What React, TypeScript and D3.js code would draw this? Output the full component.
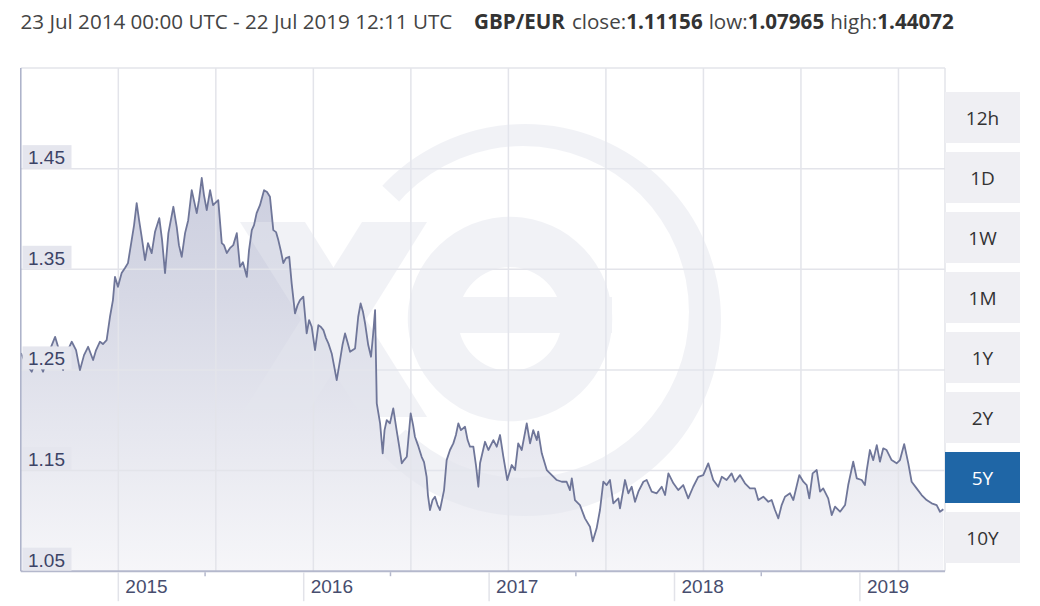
import React from "react";
import * as d3 from "d3";

// Decimal-year positions of the sampled GBP/EUR closes
const dates: number[] = [
  2014.475, 2014.497, 2014.533, 2014.561, 2014.594, 2014.626, 2014.659, 2014.68, 2014.702, 2014.723,
  2014.749, 2014.772, 2014.793, 2014.815, 2014.837, 2014.864, 2014.88, 2014.901, 2014.917, 2014.937,
  2014.955, 2014.971, 2014.982, 2014.998, 2015.018, 2015.036, 2015.052, 2015.072, 2015.085, 2015.099,
  2015.112, 2015.126, 2015.144, 2015.16, 2015.18, 2015.198, 2015.221, 2015.236, 2015.252, 2015.27,
  2015.297, 2015.315, 2015.327, 2015.342, 2015.36, 2015.377, 2015.396, 2015.423, 2015.435, 2015.45,
  2015.462, 2015.477, 2015.495, 2015.511, 2015.522, 2015.539, 2015.558, 2015.57, 2015.585, 2015.602,
  2015.62, 2015.639, 2015.656, 2015.672, 2015.693, 2015.705, 2015.72, 2015.732, 2015.746, 2015.764,
  2015.786, 2015.802, 2015.818, 2015.836, 2015.851, 2015.863, 2015.878, 2015.89, 2015.904, 2015.922,
  2015.935, 2015.953, 2015.967, 2015.98, 2015.998, 2016.016, 2016.029, 2016.043, 2016.061, 2016.079,
  2016.093, 2016.106, 2016.12, 2016.133, 2016.151, 2016.163, 2016.178, 2016.196, 2016.209, 2016.223,
  2016.236, 2016.25, 2016.277, 2016.294, 2016.307, 2016.32, 2016.331, 2016.348, 2016.363, 2016.374,
  2016.385, 2016.394, 2016.412, 2016.426, 2016.436, 2016.448, 2016.465, 2016.483, 2016.501, 2016.514,
  2016.529, 2016.541, 2016.556, 2016.577, 2016.59, 2016.6, 2016.616, 2016.636, 2016.649, 2016.663,
  2016.67, 2016.681, 2016.695, 2016.708, 2016.722, 2016.735, 2016.757, 2016.771, 2016.789, 2016.807,
  2016.821, 2016.834, 2016.848, 2016.87, 2016.884, 2016.897, 2016.915, 2016.929, 2016.942, 2016.951,
  2016.978, 2016.996, 2017.023, 2017.041, 2017.059, 2017.077, 2017.098, 2017.122, 2017.14, 2017.157,
  2017.176, 2017.203, 2017.221, 2017.238, 2017.257, 2017.265, 2017.284, 2017.311, 2017.338, 2017.365,
  2017.392, 2017.418, 2017.436, 2017.446, 2017.463, 2017.49, 2017.517, 2017.544, 2017.559, 2017.58,
  2017.598, 2017.616, 2017.634, 2017.652, 2017.67, 2017.697, 2017.706, 2017.733, 2017.751, 2017.769,
  2017.787, 2017.805, 2017.832, 2017.85, 2017.877, 2017.904, 2017.931, 2017.949, 2017.967, 2017.994,
  2018.02, 2018.047, 2018.074, 2018.101, 2018.128, 2018.155, 2018.182, 2018.209, 2018.236, 2018.255,
  2018.281, 2018.308, 2018.326, 2018.353, 2018.38, 2018.407, 2018.434, 2018.452, 2018.479, 2018.506,
  2018.524, 2018.542, 2018.56, 2018.578, 2018.596, 2018.623, 2018.641, 2018.673, 2018.695, 2018.713,
  2018.727, 2018.745, 2018.767, 2018.785, 2018.802, 2018.829, 2018.848, 2018.866, 2018.893, 2018.92,
  2018.937, 2018.964, 2018.983, 2019.01, 2019.027, 2019.037, 2019.054, 2019.072, 2019.091, 2019.108,
  2019.126, 2019.144, 2019.171, 2019.198, 2019.216, 2019.239, 2019.261, 2019.279, 2019.306, 2019.333,
  2019.36, 2019.387, 2019.414, 2019.432, 2019.45,
];

const rates: number[] = [
  1.2667, 1.2578, 1.2482, 1.2618, 1.2482, 1.2677, 1.2829, 1.2697, 1.2498, 1.2677,
  1.278, 1.2697, 1.2498, 1.2647, 1.273, 1.2598, 1.2697, 1.278, 1.2757, 1.2796,
  1.3028, 1.3194, 1.3425, 1.3326, 1.3462, 1.3512, 1.3561, 1.379, 1.3939, 1.4157,
  1.3988, 1.3822, 1.3591, 1.376, 1.3661, 1.3872, 1.4008, 1.379, 1.3462, 1.3859,
  1.4121, 1.3922, 1.374, 1.3624, 1.3859, 1.3988, 1.4286, 1.4058, 1.4187, 1.4407,
  1.4237, 1.4088, 1.4286, 1.4137, 1.4157, 1.4187, 1.376, 1.374, 1.3661, 1.371,
  1.374, 1.3859, 1.3525, 1.3571, 1.3425, 1.369, 1.3889, 1.3939, 1.4058, 1.4137,
  1.4286, 1.4267, 1.422, 1.3889, 1.3869, 1.379, 1.3671, 1.3561, 1.3611, 1.3624,
  1.336, 1.3062, 1.3144, 1.3194, 1.3227, 1.2863, 1.2995, 1.2929, 1.2697, 1.2945,
  1.2926, 1.2896, 1.2816, 1.2764, 1.2664, 1.2548, 1.2399, 1.2598, 1.2747, 1.2863,
  1.2777, 1.268, 1.2714, 1.3028, 1.3161, 1.3075, 1.2962, 1.2747, 1.2631, 1.2846,
  1.3094, 1.2168, 1.1969, 1.1671, 1.1902, 1.2002, 1.1969, 1.2118, 1.1902, 1.1753,
  1.1572, 1.1604, 1.1637, 1.2068, 1.1952, 1.1836, 1.1753, 1.1637, 1.1584, 1.1438,
  1.1257, 1.1108, 1.1207, 1.124, 1.1157, 1.1108, 1.1306, 1.1604, 1.1704, 1.177,
  1.1853, 1.1969, 1.1902, 1.1935, 1.1803, 1.1737, 1.1737, 1.1555, 1.1339, 1.1572,
  1.1786, 1.1704, 1.1803, 1.1737, 1.1853, 1.1637, 1.1406, 1.1555, 1.1505, 1.177,
  1.1704, 1.1969, 1.177, 1.1902, 1.1803, 1.1886, 1.1671, 1.1505, 1.1455, 1.1406,
  1.1389, 1.1389, 1.1306, 1.1423, 1.1207, 1.1157, 1.1025, 1.0942, 1.0797, 1.0926,
  1.1108, 1.1389, 1.1356, 1.1406, 1.1174, 1.1224, 1.1125, 1.1406, 1.1274, 1.1339,
  1.119, 1.129, 1.1389, 1.1406, 1.129, 1.1274, 1.1339, 1.1257, 1.1472, 1.1373,
  1.1306, 1.1356, 1.1224, 1.1339, 1.1438, 1.1455, 1.1572, 1.1406, 1.1339, 1.1438,
  1.1406, 1.1472, 1.1389, 1.1455, 1.1373, 1.1323, 1.1323, 1.1207, 1.124, 1.119,
  1.1207, 1.1108, 1.1025, 1.1157, 1.124, 1.1274, 1.1207, 1.1455, 1.1389, 1.1356,
  1.1224, 1.1472, 1.1505, 1.129, 1.1323, 1.1224, 1.1058, 1.1141, 1.1091, 1.1157,
  1.1356, 1.1588, 1.1423, 1.1406, 1.1356, 1.1505, 1.1704, 1.1604, 1.1753, 1.1588,
  1.1721, 1.1704, 1.1604, 1.1572, 1.1604, 1.1763, 1.1572, 1.1389, 1.1323, 1.1257,
  1.1207, 1.1174, 1.1157, 1.1091, 1.1116,
];

const xDomain: [number, number] = [2014.474, 2019.459];
const yDomain: [number, number] = [1.05, 1.55];
const yTicks: number[] = [1.05, 1.15, 1.25, 1.35, 1.45];
const yGrid: number[] = [1.15, 1.25, 1.35, 1.45];
const yearTicks: number[] = [2015, 2016, 2017, 2018, 2019];
const midYearTicks: number[] = [2015.468, 2016.468, 2017.468, 2018.468];
const gridYears: number[] = [2015.0, 2015.526, 2016.052, 2016.578, 2017.104, 2017.63, 2018.156, 2018.682, 2019.208];
const periods: string[] = ["12h", "1D", "1W", "1M", "1Y", "2Y", "5Y", "10Y"];
const selectedPeriod = "5Y";
const rangeLabel = "23 Jul 2014 00:00 UTC - 22 Jul 2019 12:11 UTC";
const pairLabel = "GBP/EUR";
const statLabels: string[] = ["close:", "low:", "high:"];
const statValues: string[] = ["1.11156", "1.07965", "1.44072"];

export default function App() {
  const W = 1040;
  const H = 606;
  const left = 20.8;
  const right = 945;
  const top = 68;
  const bottom = 571.2;

  const x = d3.scaleLinear().domain(xDomain).range([left, right]);
  const y = d3.scaleLinear().domain(yDomain).range([bottom, top]);

  const pts: [number, number][] = dates.map((d, i) => [d, rates[i]]);
  const linePath = d3
    .line<[number, number]>()
    .x((d) => x(d[0]))
    .y((d) => y(d[1]))(pts) as string;
  const areaPath = d3
    .area<[number, number]>()
    .x((d) => x(d[0]))
    .y0(bottom)
    .y1((d) => y(d[1]))(pts) as string;

  // watermark logo pieces
  const ringOuter = { cx: 525, cy: 320, r: 196 };
  const ringInner = { cx: 523, cy: 312, r: 166 };
  const circ = (c: { cx: number; cy: number; r: number }) =>
    `M${c.cx - c.r},${c.cy}a${c.r},${c.r} 0 1,0 ${2 * c.r},0a${c.r},${c.r} 0 1,0 ${-2 * c.r},0Z`;
  const eArc = d3
    .arc()
    .innerRadius(52)
    .outerRadius(102)
    .startAngle(-308 * (Math.PI / 180))
    .endAngle(Math.PI / 2);
  const eArcPath = (eArc as any)() as string;

  const font = "'Open Sans', 'DejaVu Sans', sans-serif";
  const axisFont = "'Liberation Sans', Arial, sans-serif";

  const btnX = 945;
  const btnW = 75;
  const btnH = 51;
  const btnTop = 92;
  const btnStep = 60;

  return (
    <svg
      width={W}
      height={H}
      viewBox={`0 0 ${W} ${H}`}
      style={{ position: "absolute", left: 0, top: 0, background: "#fff" }}
    >
      <defs>
        <linearGradient id="areaGrad" gradientUnits="userSpaceOnUse" x1="0" y1={top} x2="0" y2={bottom}>
          <stop offset="0" stopColor="#c3c6d9" />
          <stop offset="0.45" stopColor="#d6d8e5" />
          <stop offset="1" stopColor="#f6f6f9" />
        </linearGradient>
        <clipPath id="ringClip">
          <polygon points="525,320 306,114 400,-50 900,-50 900,700 400,700 304,523" />
        </clipPath>
        <clipPath id="plotClip">
          <rect x={left} y={top} width={right - left} height={bottom - top} />
        </clipPath>
      </defs>

      {/* header */}
      <text x={20.5} y={28.5} fontFamily={font} fontSize={20.6} fill="#444">
        {rangeLabel}
      </text>
      <text x={474} y={28.5} fontFamily={font} fontSize={20.6} fill="#444">
        <tspan fontWeight={700} fill="#333">{pairLabel}</tspan>
        {statLabels.map((l, i) => (
          <React.Fragment key={l}>
            <tspan dx={i === 0 ? 7 : 6}>{l}</tspan>
            <tspan fontWeight={700} fill="#333">{statValues[i]}</tspan>
          </React.Fragment>
        ))}
      </text>

      {/* area */}
      <path d={areaPath} fill="url(#areaGrad)" />

      {/* grid */}
      {gridYears.map((g) => (
        <line key={"gx" + g} x1={x(g)} x2={x(g)} y1={top} y2={bottom} stroke="#e3e4ea" strokeWidth={1.5} />
      ))}
      {yGrid.map((g) => (
        <line key={"gy" + g} x1={left} x2={right} y1={y(g)} y2={y(g)} stroke="#e3e4ea" strokeWidth={1.5} />
      ))}
      <line x1={left} x2={right} y1={top} y2={top} stroke="#e3e4ea" strokeWidth={1.5} />
      <line x1={right} x2={right} y1={top} y2={bottom} stroke="#e3e4ea" strokeWidth={1.5} />

      {/* watermark */}
      <g clipPath="url(#plotClip)" fill="#e4e6ee" opacity={0.5}>
        <path d={circ(ringOuter) + circ(ringInner)} fillRule="evenodd" clipPath="url(#ringClip)" />
        <path d={eArcPath} transform="translate(510,319)" />
        <rect x={458} y={297} width={154} height={36} />
        <polygon points="240,222 305,222 427,417 362,417" />
        <polygon points="362,222 427,222 305,417 240,417" />
      </g>

      {/* line */}
      <path d={linePath} fill="none" stroke="#6f7699" strokeWidth={1.8} strokeLinejoin="round" />

      {/* axes */}
      <line x1={left} x2={left} y1={top} y2={bottom} stroke="#aab0c8" strokeWidth={1.5} />
      <line x1={left} x2={right} y1={bottom} y2={bottom} stroke="#b4b8cc" strokeWidth={2} />

      {/* y labels */}
      {yTicks.map((t) => (
        <g key={"yl" + t}>
          <rect x={22.5} y={y(t) - 23.5} width={49} height={23} fill="#e5e6ee" />
          <text x={28} y={y(t) - 4.5} fontFamily={axisFont} fontSize={19} fill="#3c4366">
            {t.toFixed(2)}
          </text>
        </g>
      ))}

      {/* x ticks */}
      {yearTicks.map((t) => (
        <g key={"yt" + t}>
          <line x1={x(t)} x2={x(t)} y1={bottom + 1} y2={bottom + 30} stroke="#e2e3e9" strokeWidth={1.5} />
          <text x={x(t) + 7} y={bottom + 22} fontFamily={axisFont} fontSize={19} fill="#474d6e">
            {t}
          </text>
        </g>
      ))}
      {midYearTicks.map((t) => (
        <line key={"mt" + t} x1={x(t)} x2={x(t)} y1={bottom + 1} y2={bottom + 5} stroke="#b4b8cc" strokeWidth={1.5} />
      ))}

      {/* period buttons */}
      {periods.map((p, i) => {
        const sel = p === selectedPeriod;
        const by = btnTop + i * btnStep;
        return (
          <g key={p}>
            <rect x={btnX} y={by} width={btnW} height={btnH} fill={sel ? "#1f66a6" : "#efeff3"} />
            <text
              x={btnX + btnW / 2}
              y={by + btnH / 2 + 7}
              textAnchor="middle"
              fontFamily={font}
              fontSize={19}
              fill={sel ? "#ffffff" : "#333"}
            >
              {p}
            </text>
          </g>
        );
      })}
    </svg>
  );
}
